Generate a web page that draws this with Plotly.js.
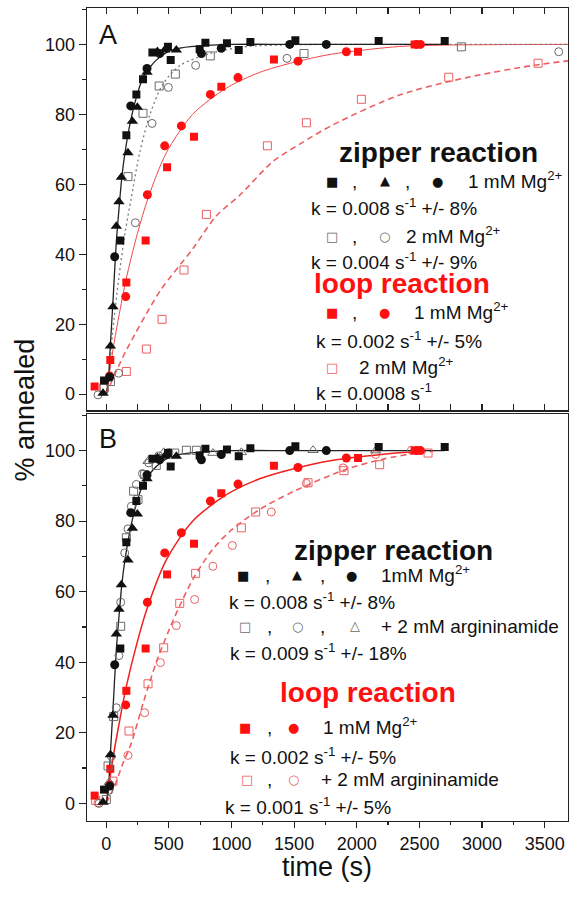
<!DOCTYPE html>
<html><head><meta charset="utf-8">
<script src="https://cdn.plot.ly/plotly-3.0.1.min.js"></script>
<style>html,body{margin:0;padding:0;background:#fff}#chart{width:571px;height:901px}</style>
</head><body><div id="chart"></div>
<script>
// ---------- data (time in s, % annealed) ----------
// zipper reaction, 1 mM Mg2+ (shared by panels A and B)
const zip1_sq_t = [-17, 113, 161, 241, 294, 369, 493, 515, 746, 792, 964, 1058, 1151, 1510, 2175, 2702];
const zip1_sq_y = [3.9, 43.9, 74, 85.7, 90, 97.7, 99.3, 95.5, 98.6, 100.5, 100.3, 98.4, 100.7, 101.2, 101, 101];
const zip1_tr_t = [-25, 34, 54, 81, 102, 121, 174, 209, 249, 326, 409, 467, 560];
const zip1_tr_y = [0.3, 13.8, 25, 48, 55, 62, 69, 78, 82, 92, 98, 98.4, 98.4];
const zip1_ci_t = [28, 68, 196, 326, 427, 760, 919, 1465, 1757];
const zip1_ci_y = [4.9, 39.3, 82.4, 93.1, 97.4, 97.4, 98.9, 100, 100];
const zip1_fit_t = [0, 15, 35, 55, 80, 100, 125, 150, 200, 250, 300, 350, 400, 500, 600, 800, 1000, 1500, 2700];
const zip1_fit_y = [0, 3, 15, 27, 43, 52, 62, 69, 79, 86, 91, 93.5, 95.5, 98, 99, 99.7, 100, 100, 100];

// zipper reaction, 2 mM Mg2+ (panel A)
const zip2_sq_t = [-17, 34, 174, 294, 423, 552, 831, 1579, 2835];
const zip2_sq_y = [1.7, 3.6, 62.2, 80.3, 88.1, 91.5, 96.7, 97.4, 99.3];
const zip2_ci_t = [-65, 99, 233, 366, 496, 714, 1443, 3612];
const zip2_ci_y = [-0.2, 6, 49, 77.4, 87.7, 94, 96, 97.9];
const zip2_fit_t = [0, 10, 50, 100, 150, 200, 267, 350, 450, 590, 830, 1100, 1500, 2000, 3686];
const zip2_fit_y = [0, 1, 17, 33, 46, 56, 69, 80, 88.5, 94, 97.4, 99.3, 99.9, 100, 100];

// loop reaction, 1 mM Mg2+ (shared by panels A and B)
const loop1_sq_t = [-92, 33, 161, 315, 486, 701, 919, 1339, 2010, 2462];
const loop1_sq_y = [2.2, 9.8, 31.9, 43.9, 64.9, 73.6, 87.9, 95.7, 97.9, 100];
const loop1_ci_t = [28, 156, 329, 467, 600, 832, 1052, 1531, 1917, 2476, 2508];
const loop1_ci_y = [5.2, 27.9, 57, 71, 76.7, 85.7, 90.5, 95.2, 97.9, 100, 100];
const loop1_fitA_t = [0, 30, 60, 100, 160, 250, 334, 480, 690, 960, 1225, 1490, 1800, 2340, 2700, 3686];
const loop1_fitA_y = [0, 7, 14, 22, 33, 46, 56, 69, 80, 87.5, 92, 94.8, 97.2, 99.4, 99.8, 100];
const loop1_fitB_t = [0, 30, 60, 100, 160, 250, 334, 480, 690, 960, 1225, 1490, 1800, 2340, 2500];
const loop1_fitB_y = [0, 7, 14, 22, 33, 46, 56, 69, 80, 87.5, 92, 94.8, 97.2, 99.4, 99.6];

// loop reaction, 2 mM Mg2+ (panel A)
const loop2_sq_t = [-17, 161, 321, 446, 621, 800, 1287, 1598, 2037, 2734, 3447];
const loop2_sq_y = [1.9, 6.5, 12.9, 21.4, 35.5, 51.4, 71, 77.6, 84.3, 90.6, 94.6];
const loop2_fit_t = [0, 30, 80, 160, 430, 690, 880, 1070, 1330, 1545, 1810, 2340, 2875, 3410, 3686];
const loop2_fit_y = [0, 2.5, 6.5, 12.5, 29.5, 41.5, 51, 57, 66.5, 71.5, 77, 85.5, 90.5, 94, 95.3];

// zipper reaction + 2 mM argininamide (panel B)
const zipA_sq_t = [1, 15, 60, 116, 161, 219, 254, 307, 400, 547, 640, 720];
const zipA_sq_y = [1.1, 10.6, 24.6, 50.2, 75.3, 88.5, 86.1, 93.2, 95.8, 99.3, 100.1, 100.1];
const zipA_ci_t = [-57, 22, 41, 81, 102, 116, 148, 174, 201, 241, 290, 340, 420, 500];
const zipA_ci_y = [0, 3.7, 13.4, 27.1, 41.9, 57, 71, 77.8, 84.2, 90.4, 93.5, 96.5, 98.5, 99.5];
const zipA_tr_t = [25, 334, 460, 852, 1079, 1651, 2151];
const zipA_tr_y = [6, 97, 99.5, 99.3, 99.5, 100.1, 100];

// loop reaction + 2 mM argininamide (panel B)
const loopA_sq_t = [-84, 54, 182, 334, 459, 587, 714, 1079, 1193, 1611, 1898, 2183, 2569];
const loopA_sq_y = [0.8, 6.3, 20.5, 33.9, 44.1, 56.7, 65.2, 78.1, 82.6, 90.9, 94.3, 96, 99.3];
const loopA_ci_t = [-65, 174, 307, 433, 560, 706, 852, 1007, 1318, 1598, 1890, 2151, 2436];
const loopA_ci_y = [0.2, 13.6, 25.7, 39.9, 50.4, 57.8, 67.2, 73.1, 82.6, 90.7, 95.1, 98.9, 100.1];
const loopA_fit_t = [0, 68, 130, 200, 300, 400, 500, 600, 700, 850, 1000, 1225, 1500, 1900, 2200, 2475, 2610];
const loopA_fit_y = [0, 5, 11, 17, 29, 40, 49, 57, 64, 72, 77.5, 83.3, 88.5, 94.5, 97.5, 99.3, 99.8];

const xTickVals = [0, 500, 1000, 1500, 2000, 2500, 3000, 3500];
const yTickVals = [0, 20, 40, 60, 80, 100];

// ---------- styles ----------
const BLACK = '#111', GREY = '#6a6a6a', RED = '#ff1010', LRED = '#ec5f62';
const FONT = 'Liberation Sans, Arial, sans-serif';
const GLYPH = 'DejaVu Sans, sans-serif';

function pts(t, y, xa, ya, symbol, color, size) {
  const open = symbol.indexOf('open') >= 0;
  return {x: t, y: y, xaxis: xa, yaxis: ya, type: 'scatter', mode: 'markers', hoverinfo: 'skip',
    marker: {symbol: symbol, size: size || 8, color: color, line: {color: color, width: open ? 1 : 0}}};
}
function fit(t, y, xa, ya, color, width, dash) {
  return {x: t, y: y, xaxis: xa, yaxis: ya, type: 'scatter', mode: 'lines', hoverinfo: 'skip',
    line: {color: color, width: width, dash: dash || 'solid', shape: 'spline', smoothing: 0.8}};
}

const traces = [
  // Panel A
  fit(loop2_fit_t, loop2_fit_y, 'x', 'y', LRED, 1.6, '6px,4px'),
  fit(loop1_fitA_t, loop1_fitA_y, 'x', 'y', '#f04848', 1.0),
  fit(zip2_fit_t, zip2_fit_y, 'x', 'y', '#777', 1.3, '2px,3px'),
  fit(zip1_fit_t, zip1_fit_y, 'x', 'y', '#222', 1.3),
  pts(loop2_sq_t, loop2_sq_y, 'x', 'y', 'square-open', LRED, 8),
  pts(loop1_sq_t, loop1_sq_y, 'x', 'y', 'square', RED, 8),
  pts(loop1_ci_t, loop1_ci_y, 'x', 'y', 'circle', RED, 9),
  pts(zip2_sq_t, zip2_sq_y, 'x', 'y', 'square-open', GREY, 8),
  pts(zip2_ci_t, zip2_ci_y, 'x', 'y', 'circle-open', GREY, 8),
  pts(zip1_sq_t, zip1_sq_y, 'x', 'y', 'square', BLACK, 8),
  pts(zip1_tr_t, zip1_tr_y, 'x', 'y', 'triangle-up', BLACK, 10),
  pts(zip1_ci_t, zip1_ci_y, 'x', 'y', 'circle', BLACK, 9),
  // Panel B
  fit(loopA_fit_t, loopA_fit_y, 'x2', 'y2', LRED, 1.6, '6px,4px'),
  fit(loop1_fitB_t, loop1_fitB_y, 'x2', 'y2', '#f02020', 1.5),
  fit(zip1_fit_t, zip1_fit_y, 'x2', 'y2', '#222', 1.3),
  pts(loopA_sq_t, loopA_sq_y, 'x2', 'y2', 'square-open', LRED, 8),
  pts(loopA_ci_t, loopA_ci_y, 'x2', 'y2', 'circle-open', LRED, 8),
  pts(loop1_sq_t, loop1_sq_y, 'x2', 'y2', 'square', RED, 8),
  pts(loop1_ci_t, loop1_ci_y, 'x2', 'y2', 'circle', RED, 9),
  pts(zipA_sq_t, zipA_sq_y, 'x2', 'y2', 'square-open', GREY, 8),
  pts(zipA_ci_t, zipA_ci_y, 'x2', 'y2', 'circle-open', GREY, 8),
  pts(zipA_tr_t, zipA_tr_y, 'x2', 'y2', 'triangle-up-open', GREY, 9),
  pts(zip1_sq_t, zip1_sq_y, 'x2', 'y2', 'square', BLACK, 8),
  pts(zip1_tr_t, zip1_tr_y, 'x2', 'y2', 'triangle-up', BLACK, 10),
  pts(zip1_ci_t, zip1_ci_y, 'x2', 'y2', 'circle', BLACK, 9)
];

// ---------- layout helpers (pixel -> paper) ----------
const PL = 87.3, PR = 568.3, PT = 8, PB = 821.5;
const fx = p => (p - PL) / (PR - PL);
const fy = p => (PB - p) / (PB - PT);
function txt(x, y, text, size, color, anchor, extra) {
  return Object.assign({xref: 'paper', yref: 'paper', x: fx(x), y: fy(y), text: text, showarrow: false,
    xanchor: anchor || 'left', yanchor: 'middle', font: {family: FONT, size: size, color: color}, borderpad: 0}, extra || {});
}
function gl(x, y, ch, color, size) {
  return {xref: 'paper', yref: 'paper', x: fx(x), y: fy(y), text: ch, showarrow: false,
    xanchor: 'center', yanchor: 'middle', font: {family: GLYPH, size: size || 13, color: color}, borderpad: 0};
}
const S = 19, H = 28;
const annotations = [
  txt(98, 35, 'A', 27, BLACK),
  txt(98, 439, 'B', 27, BLACK),
  // Panel A legend text
  txt(338, 153, '<b>zipper reaction</b>', H, BLACK),
  gl(332, 182, '■', BLACK), txt(355, 182, ',', S, BLACK, 'center'), gl(385, 181, '▲', BLACK),
  txt(408, 182, ',', S, BLACK, 'center'), gl(438, 182, '●', BLACK), txt(467, 180, '1 mM Mg<sup>2+</sup>', S, BLACK),
  txt(310, 207, 'k = 0.008 s<sup>-1</sup> +/- 8%', S, BLACK),
  gl(332, 237, '□', GREY), txt(355, 237, ',', S, BLACK, 'center'), gl(385, 237, '○', GREY),
  txt(405, 235, '2 mM Mg<sup>2+</sup>', S, BLACK),
  txt(310, 261, 'k = 0.004 s<sup>-1</sup> +/- 9%', S, BLACK),
  txt(313, 284, '<b>loop reaction</b>', H, RED),
  gl(332, 313, '■', RED), txt(355, 313, ',', S, BLACK, 'center'), gl(385, 313, '●', RED),
  txt(413, 311, '1 mM Mg<sup>2+</sup>', S, BLACK),
  txt(315, 340, 'k = 0.002 s<sup>-1</sup> +/- 5%', S, BLACK),
  gl(332, 368, '□', LRED), txt(358, 366, '2 mM Mg<sup>2+</sup>', S, BLACK),
  txt(315, 392, 'k = 0.0008 s<sup>-1</sup>', S, BLACK),
  // Panel B legend text
  txt(293, 551, '<b>zipper reaction</b>', H, BLACK),
  gl(243, 576, '■', BLACK), txt(268, 576, ',', S, BLACK, 'center'), gl(297, 575, '▲', BLACK),
  txt(323, 576, ',', S, BLACK, 'center'), gl(352, 576, '●', BLACK), txt(380, 574, '1mM Mg<sup>2+</sup>', S, BLACK),
  txt(228, 601, 'k = 0.008 s<sup>-1</sup> +/- 8%', S, BLACK),
  gl(245, 627, '□', GREY), txt(270, 627, ',', S, BLACK, 'center'), gl(298, 627, '○', GREY),
  txt(323, 627, ',', S, BLACK, 'center'), gl(355, 626, '△', GREY), txt(380, 627, '+ 2 mM argininamide', S, BLACK),
  txt(229, 652, 'k = 0.009 s<sup>-1</sup> +/- 18%', S, BLACK),
  txt(279, 693, '<b>loop reaction</b>', H, RED),
  gl(245, 728, '■', RED), txt(270, 728, ',', S, BLACK, 'center'), gl(294, 728, '●', RED),
  txt(322, 726, '1 mM Mg<sup>2+</sup>', S, BLACK),
  txt(229, 756, 'k = 0.002 s<sup>-1</sup> +/- 5%', S, BLACK),
  gl(247, 780, '□', LRED), txt(270, 780, ',', S, BLACK, 'center'), gl(294, 780, '○', LRED),
  txt(320, 780, '+ 2 mM argininamide', S, BLACK),
  txt(224, 806, 'k = 0.001 s<sup>-1</sup> +/- 5%', S, BLACK),
  // axis titles
  txt(25, 410, '% annealed', 27, BLACK, 'center', {textangle: -90}),
  txt(327, 868, 'time (s)', 27, BLACK, 'center')
];

const XR = [-153, 3686];
const RA = [-4.6, 110.4], RB = [-5, 110.3];
const AX = {showgrid: false, zeroline: false, linecolor: '#222', linewidth: 1.4, tickcolor: '#222', tickwidth: 1.2,
  tickfont: {family: FONT, size: 18, color: '#111'}, fixedrange: true};
const dA = [0.5052, 1], dB = [0, 0.5003];

const layout = {
  width: 571, height: 901, paper_bgcolor: '#fff', plot_bgcolor: '#fff', showlegend: false,
  margin: {l: PL, r: 571 - PR, t: PT, b: 901 - PB, pad: 0},
  font: {family: FONT, color: '#111'},
  xaxis: Object.assign({}, AX, {domain: [0, 1], anchor: 'y', range: XR, showticklabels: false, ticks: 'inside',
    tick0: 0, dtick: 250, ticklen: 6, showline: true, mirror: 'ticks'}),
  yaxis: Object.assign({}, AX, {domain: dA, anchor: 'x', range: RA, tickmode: 'array', tickvals: yTickVals,
    ticks: 'outside', ticklen: 7, showline: true, mirror: true,
    minor: {tick0: 0, dtick: 10, ticks: 'outside', ticklen: 4, tickcolor: '#222', tickwidth: 1.2}}),
  yaxis3: Object.assign({}, AX, {overlaying: 'y', side: 'right', anchor: 'x', range: RA, tick0: 0, dtick: 10,
    ticks: 'inside', ticklen: 6, showticklabels: false, showline: false}),
  xaxis2: Object.assign({}, AX, {domain: [0, 1], anchor: 'y2', range: XR, tickmode: 'array', tickvals: xTickVals,
    ticks: 'outside', ticklen: 6, showline: true, mirror: true,
    minor: {tick0: 0, dtick: 250, ticks: 'outside', ticklen: 3, tickcolor: '#222', tickwidth: 1.2}}),
  xaxis3: Object.assign({}, AX, {overlaying: 'x2', side: 'top', anchor: 'y2', range: XR, tick0: 0, dtick: 250,
    ticks: 'inside', ticklen: 6, showticklabels: false, showline: false}),
  yaxis2: Object.assign({}, AX, {domain: dB, anchor: 'x2', range: RB, tickmode: 'array', tickvals: yTickVals,
    ticks: 'outside', ticklen: 7, showline: true, mirror: true,
    minor: {tick0: 0, dtick: 10, ticks: 'outside', ticklen: 4, tickcolor: '#222', tickwidth: 1.2}}),
  yaxis4: Object.assign({}, AX, {overlaying: 'y2', side: 'right', anchor: 'x2', range: RB, tick0: 0, dtick: 10,
    ticks: 'inside', ticklen: 6, showticklabels: false, showline: false}),
  annotations: annotations
};

Plotly.newPlot('chart', traces, layout, {staticPlot: true, displayModeBar: false});
</script></body></html>
